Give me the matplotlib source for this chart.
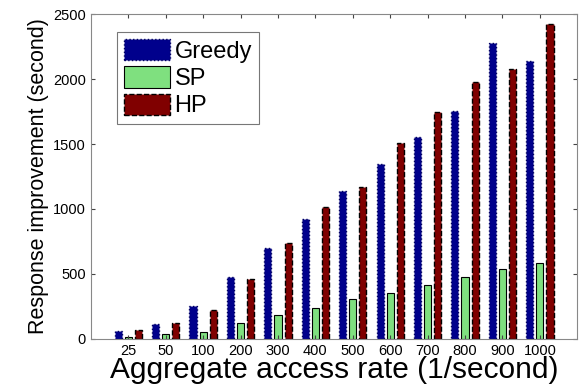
import matplotlib.pyplot as plt
import numpy as np

plt.rcParams['font.family'] = ['Liberation Sans', 'DejaVu Sans']

rates = ["25", "50", "100", "200", "300", "400", "500", "600", "700", "800", "900", "1000"]
greedy = [60, 115, 250, 475, 702, 923, 1138, 1346, 1554, 1754, 2277, 2138]
sp = [15, 35, 55, 120, 185, 237, 305, 355, 415, 475, 535, 587]
hp = [65, 125, 220, 460, 740, 1015, 1170, 1508, 1746, 1977, 2077, 2423]

x = np.arange(1, len(rates) + 1)
w = 0.19
off = 0.27

fig = plt.figure(figsize=(5.79, 3.85), dpi=100)
ax = fig.add_axes([0.157, 0.12, 0.84, 0.843])

ax.bar(x - off, greedy, w, color="#00008c", edgecolor="#000060", linestyle=":", linewidth=1.0, label="Greedy")
ax.bar(x, sp, w, color="#7fe07f", edgecolor="black", linewidth=0.8, label="SP")
ax.bar(x + off, hp, w, color="#800000", edgecolor="black", linestyle="--", linewidth=1.0, label="HP")

ax.set_xlim(0, 13)
ax.set_ylim(0, 2500)
ax.set_xticks(x)
ax.set_xticklabels(rates)
ax.set_yticks(np.arange(0, 2501, 500))
ax.tick_params(direction="in", top=True, right=True, labelsize=10.5, length=3, color="#444444")
for s in ax.spines.values():
    s.set_color("#888888")

ax.set_xlabel("Aggregate access rate (1/second)", fontsize=21.5, labelpad=-1)
ax.set_ylabel("Response improvement (second)", fontsize=15.5, labelpad=3)

leg = ax.legend(loc="upper left", bbox_to_anchor=(0.053, 0.945), borderaxespad=0, fontsize=17,
                frameon=True, fancybox=False, edgecolor="#555555", handlelength=1.95,
                handleheight=1.0, borderpad=0.3, labelspacing=0.15, handletextpad=0.2)
leg.get_frame().set_linewidth(0.8)

fig.savefig("out.png", dpi=100)
